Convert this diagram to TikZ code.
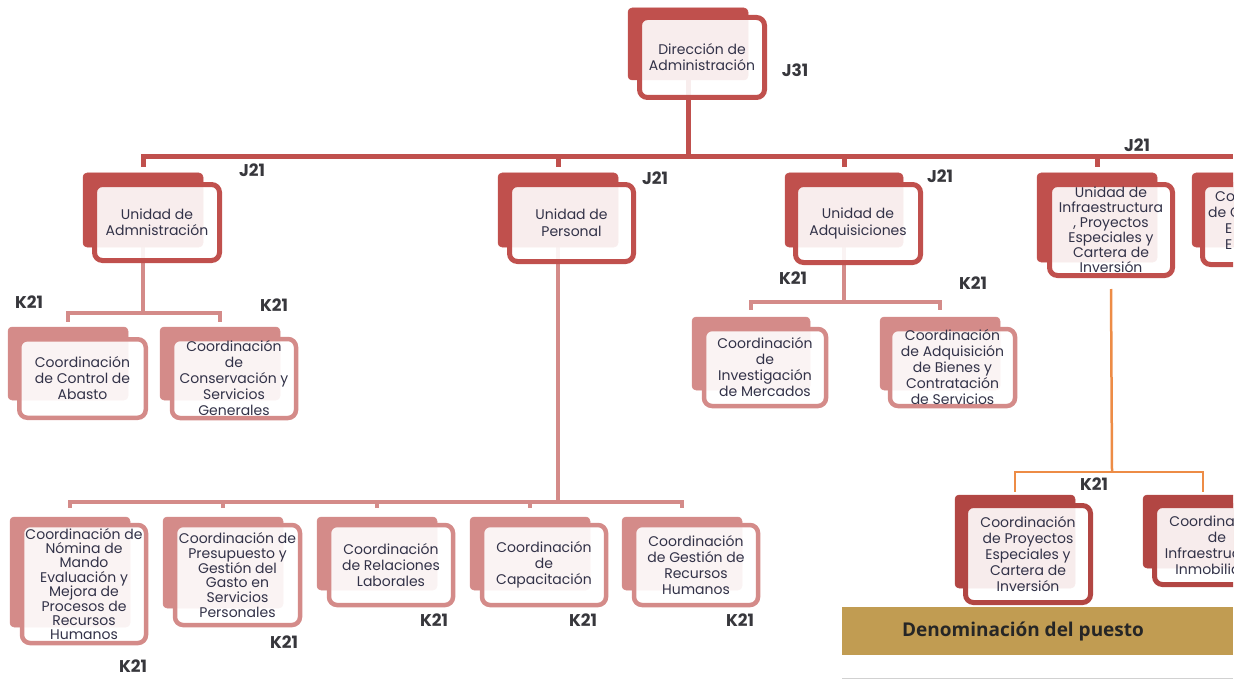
\documentclass[tikz,border=0pt]{standalone}
\usepackage{fontspec}
\newfontfamily\pop{Poppins}
\newfontfamily\osans{Open Sans}
\usetikzlibrary{fit,backgrounds}
\definecolor{dred}{RGB}{192,80,77}
\definecolor{dred2}{RGB}{178,70,67}
\definecolor{rose}{RGB}{212,139,137}
\definecolor{orng}{RGB}{237,140,70}
\definecolor{gold}{RGB}{193,156,82}
\definecolor{txtc}{RGB}{50,50,72}
\definecolor{labc}{RGB}{55,55,60}
\newcommand\obox[6]{%
  \node[#2shadow, fit={#3}] (#1-s) {};
  \node[#2front, fit={#4}] (#1) {};
  \node[boxtext,#6] (#1-t) at (#1.center) {#5};
}
\begin{document}
\begin{tikzpicture}[x=1pt,y=-1pt,
  darkshadow/.style={fill=dred,draw=dred,line width=0.5pt,rounded corners=4pt,inner sep=0pt},
  darkfront/.style={draw=dred,line width=5pt,fill=white,fill opacity=0.9,rounded corners=8pt,inner sep=0pt},
  roseshadow/.style={fill=rose,draw=rose,line width=0.5pt,rounded corners=4pt,inner sep=0pt},
  rosefront/.style={draw=rose,line width=4.5pt,fill=white,fill opacity=0.9,rounded corners=8pt,inner sep=0pt},
  deepshadow/.style={fill=dred2,draw=dred2,line width=0.5pt,rounded corners=4pt,inner sep=0pt},
  deepfront/.style={draw=dred2,line width=5pt,fill=white,fill opacity=0.9,rounded corners=8pt,inner sep=0pt},
  boxtext/.style={align=center,inner sep=0pt,text=txtc,font=\pop\fontsize{14}{16}\selectfont},
  lab/.style={inner sep=0pt,text=labc,font=\pop\bfseries\fontsize{17}{17}\selectfont},
  l2/.style={draw=dred,line width=5pt},
  l3/.style={draw=rose,line width=4pt},
  ol/.style={draw=orng,line width=2.5pt}]
\useasboundingbox (0,0) rectangle (1246,679);
\begin{scope}
\clip (0,0) rectangle (1233,679);
% level 1
\obox{dir}{dark}{(628,8) (748,80)}{(639.5,17.5) (764.5,97.5)}{Dirección de\\Administración}{}
% level 2
\obox{adm}{dark}{(83,173) (203,247)}{(94.5,184.5) (219.5,260.5)}{Unidad de\\Admnistración}{}
\obox{per}{dark}{(498,173) (618,247)}{(509.5,184.5) (633.5,261.5)}{Unidad de\\Personal}{font=\pop\fontsize{14}{17}\selectfont}
\obox{adq}{dark}{(785,173) (903,247)}{(795.5,184.5) (920.5,262.5)}{Unidad de\\Adquisiciones}{font=\pop\fontsize{14}{17}\selectfont}
\obox{inf}{dark}{(1037,173) (1157,262)}{(1049.5,184.5) (1172.5,275.5)}{Unidad de\\Infraestructura\\, Proyectos\\Especiales y\\Cartera de\\Inversión}{font=\pop\fontsize{14}{15}\selectfont}
\obox{cut}{dark}{(1192,173) (1312,247)}{(1202.5,184.5) (1327.5,264.5)}{}{}
\node[boxtext,anchor=west,align=left] (cut-t) at (1208,221) {\hspace{7pt}Co\\de C\\\hspace{17pt}E\\\hspace{17pt}E};
% level 3 under Administracion
\obox{abasto}{rose}{(8,327) (128,400)}{(19.25,339.25) (145.75,417.75)}{Coordinación\\de Control de\\Abasto}{}
\obox{conserv}{rose}{(160,327) (280,400)}{(172,339) (296,418)}{Coordinación\\de\\Conservación y\\Servicios\\Generales}{}
% under Adquisiciones
\obox{merc}{rose}{(692,317) (810,390)}{(704,329) (826,406)}{Coordinación\\de\\Investigación\\de Mercados}{}
\obox{bien}{rose}{(880,317) (1000,390)}{(890,329) (1015,406)}{Coordinación\\de Adquisición\\de Bienes y\\Contratación\\de Servicios}{}
% under Personal
\obox{nom}{rose}{(10,517) (130,627)}{(22,525) (146,643)}{Coordinación de\\Nómina de\\Mando\\Evaluación y\\Mejora de\\Procesos de\\Recursos\\Humanos}{font=\pop\fontsize{14}{14.4}\selectfont}
\obox{pres}{rose}{(163,517) (283,608)}{(175,525) (300,625)}{Coordinación de\\Presupuesto y\\Gestión del\\Gasto en\\Servicios\\Personales}{font=\pop\fontsize{14}{14.7}\selectfont}
\obox{rel}{rose}{(317,517) (437,590)}{(329,525) (453,605)}{Coordinación\\de Relaciones\\Laborales}{}
\obox{cap}{rose}{(470,517) (590,590)}{(482,525) (606,605)}{Coordinación\\de\\Capacitación}{}
\obox{ges}{rose}{(622,517) (742,590)}{(634,525) (758,605)}{Coordinación\\de Gestión de\\Recursos\\Humanos}{}
% under Infraestructura
\obox{proy}{deep}{(955,495) (1075,588)}{(965.5,505.5) (1090.5,602.5)}{Coordinación\\de Proyectos\\Especiales y\\Cartera de\\Inversión}{}
\obox{inmob}{deep}{(1143,495) (1263,568)}{(1154.5,505.5) (1279.5,584.5)}{Coordinación\\de\\Infraestructura\\Inmobiliaria}{}
\end{scope}
% labels
\node[lab] (j31) at (795,70) {J31};
\node[lab] (j21a) at (252,170) {J21};
\node[lab] (j21b) at (655,178) {J21};
\node[lab] (j21c) at (940,176) {J21};
\node[lab] (j21d) at (1137,145) {J21};
\node[lab] (k1) at (29,302) {K21};
\node[lab] (k2) at (274,305) {K21};
\node[lab] (k3) at (793,278) {K21};
\node[lab] (k4) at (973,283) {K21};
\node[lab] (k5) at (133,666) {K21};
\node[lab] (k6) at (284,642) {K21};
\node[lab] (k7) at (434,620) {K21};
\node[lab] (k8) at (583,620) {K21};
\node[lab] (k9) at (740,620) {K21};
\node[lab] (k10) at (1094,484) {K21};
% legend band
\node[fill=gold,minimum width=391pt,minimum height=48pt,inner sep=0pt,anchor=north west] (band) at (842,607) {};
\node[inner sep=0pt,text=black!85,font=\osans\bfseries\fontsize{19}{19}\selectfont] (bandt) at (1023,631) {Denominación del puesto};
\coordinate (gl) at (842,678);
\coordinate (gr) at (1233,678);
\draw[black!18,line width=1pt] (gl) -- (gr);
% connectors
\begin{scope}[on background layer]
\coordinate (barR) at (1233,157);
\draw[l2] (dir-s.south) -- (dir-s.south |- barR);
\draw[l2] ([yshift=6pt]adm-s.north) |- (barR);
\draw[l2] ([yshift=6pt]per-s.north) -- (per-s.north |- barR);
\draw[l2] ([yshift=6pt]adq-s.north) -- (adq-s.north |- barR);
\draw[l2] ([yshift=6pt]inf-s.north) -- (inf-s.north |- barR);
% administracion
\coordinate (admJ) at (143,313);
\draw[l3] (adm-s.south) -- (admJ);
\draw[l3] ([yshift=5pt]abasto-s.north) |- (admJ) -| ([yshift=5pt]conserv-s.north);
% adquisiciones
\coordinate (adqJ) at (844,302);
\draw[l3] (adq-s.south) -- (adqJ);
\draw[l3] ([yshift=7pt]merc-s.north) |- (adqJ) -| ([yshift=7pt]bien-s.north);
% personal
\coordinate (perJ) at (558,502);
\draw[l3] (per-s.south) -- (perJ);
\draw[l3] ([yshift=9pt]nom-s.north) |- (perJ) -| ([yshift=9pt]ges-s.north);
\draw[l3] ([yshift=9pt]pres-s.north) -- (pres-s.north |- perJ);
\draw[l3] ([yshift=9pt]rel-s.north) -- (rel-s.north |- perJ);
\draw[l3] ([yshift=9pt]cap-s.north) -- (cap-s.north |- perJ);
% infraestructura
\coordinate (infJ) at (1112,472);
\draw[ol] ([yshift=-11pt]inf.south) -- (infJ);
\draw[ol] ([yshift=3pt]proy-s.north) |- (infJ) -| ([yshift=3pt]inmob-s.north);
\end{scope}
\end{tikzpicture}
\end{document}
